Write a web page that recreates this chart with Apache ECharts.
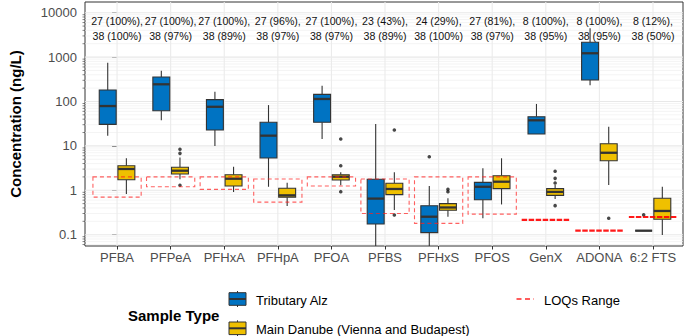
<!DOCTYPE html>
<html><head><meta charset="utf-8">
<script src="https://cdn.jsdelivr.net/npm/echarts@6/dist/echarts.min.js"></script>
<style>html,body{margin:0;padding:0;background:#fff}#c{width:685px;height:336px}</style>
</head><body><div id="c"></div>
<script>
const categories = ['PFBA','PFPeA','PFHxA','PFHpA','PFOA','PFBS','PFHxS','PFOS','GenX','ADONA','6:2 FTS'];
const countsAlz = ['27 (100%),','27 (100%),','27 (100%),','27 (96%),','27 (100%),','23 (43%),','24 (29%),','27 (81%),','8 (100%),','8 (100%),','8 (12%),'];
const countsDanube = ['38 (100%)','38 (97%)','38 (89%)','38 (97%)','38 (97%)','38 (89%)','38 (100%)','38 (97%)','38 (95%)','38 (95%)','38 (50%)'];
// [lower whisker, Q1, median, Q3, upper whisker]
const alzBox = [
  [17, 30.6, 79, 182, 748],
  [38, 62, 244, 356, 494],
  [9.95, 22.8, 76, 110, 166],
  [1.2, 5.34, 17, 34, 83],
  [14.3, 34, 114, 145, 227],
  [0.05, 0.174, 0.65, 1.77, 31],
  [0.05, 0.111, 0.254, 0.45, 1.25],
  [0.234, 0.61, 1.2, 1.51, 3.13],
  [18.5, 18.5, 37.7, 45.5, 88],
  [232, 305, 1220, 2155, 4454],
  [0.123, 0.123, 0.123, 0.123, 0.123]
];
const danubeBox = [
  [0.83, 1.73, 3.02, 3.58, 5.26],
  [1.77, 2.33, 2.76, 3.3, 5.5],
  [0.92, 1.25, 1.82, 2.24, 3.4],
  [0.44, 0.70, 0.77, 1.11, 1.48],
  [1.30, 1.71, 2.02, 2.24, 2.54],
  [0.36, 0.80, 1.07, 1.44, 2.54],
  [0.254, 0.355, 0.41, 0.50, 0.66],
  [0.48, 1.09, 1.56, 2.13, 5.26],
  [0.64, 0.77, 0.92, 1.09, 1.32],
  [1.32, 4.64, 7.0, 11.2, 27],
  [0.098, 0.222, 0.342, 0.66, 1.2]
];
// [category index, value]
const alzOutliers = [[6, 5.7], [10, 0.28]];
const danubeOutliers = [[1, 8.4], [1, 6.8], [1, 1.3], [4, 14.3], [4, 3.58], [4, 0.93], [5, 22.8], [5, 0.277],
  [6, 1.05], [6, 0.93], [8, 2.68], [8, 1.86], [8, 1.46], [8, 0.45], [9, 0.234]];
const loqMin = [0.70, 1.2, 1.05, 0.54, 1.25, 0.30, 0.18, 0.29, 0.215, 0.123, 0.25];
const loqMax = [2.0, 2.0, 2.0, 1.8, 2.0, 1.8, 2.0, 2.0, 0.215, 0.123, 0.25];
const yTicks = [0.1, 1, 10, 100, 1000, 10000];
const yTickLabels = ['0.1', '1', '10', '100', '1000', '10000'];
const legendLabels = ['Tributary Alz', 'Main Danube (Vienna and Budapest)'];

const X_MIN = -0.598, X_MAX = 10.56;
const Y_MIN = 0.0556, Y_MAX = 17420;
const DODGE = 0.174, HALF_BOX = 0.158, HALF_LOQ = 0.45;
const BLUE = '#0073C2', YELLOW = '#EFC000', EDGE = '#333333';
const FONT = '"Liberation Sans", Arial, Helvetica, sans-serif';

// minor log breaks (2..9 x 10^k) within range
const yMinor = [];
for (let k = -2; k <= 4; k++) for (let m = 2; m <= 9; m++) {
  const v = m * Math.pow(10, k);
  if (v > Y_MIN && v < Y_MAX) yMinor.push(v);
}

const chart = echarts.init(document.getElementById('c'), null, {renderer: 'svg'});

function boxSeries(name, stats, off, color) {
  return {
    type: 'custom', name, z: 3, silent: true,
    data: stats.map((s, i) => [i, ...s]),
    encode: {x: 0, y: [1, 2, 3, 4, 5]},
    renderItem(params, api) {
      const cs = params.coordSys;
      const clampY = y => Math.max(cs.y, Math.min(cs.y + cs.height, y));
      const xi = api.value(0) + off;
      const xm = api.coord([xi, 1])[0];
      const xl = api.coord([xi - HALF_BOX, 1])[0];
      const xr = api.coord([xi + HALF_BOX, 1])[0];
      const Y = d => api.coord([xi, api.value(d)])[1];
      const yLo = clampY(Y(1)), yQ1 = Y(2), yMed = Y(3), yQ3 = Y(4), yHi = clampY(Y(5));
      return {type: 'group', children: [
        {type: 'line', shape: {x1: xm, y1: yHi, x2: xm, y2: yQ3}, style: {stroke: EDGE, lineWidth: 1.1}},
        {type: 'line', shape: {x1: xm, y1: yQ1, x2: xm, y2: yLo}, style: {stroke: EDGE, lineWidth: 1.1}},
        {type: 'rect', shape: {x: xl, y: yQ3, width: xr - xl, height: yQ1 - yQ3}, style: {fill: color, stroke: EDGE, lineWidth: 1.1}},
        {type: 'line', shape: {x1: xl, y1: yMed, x2: xr, y2: yMed}, style: {stroke: EDGE, lineWidth: 2.3}}
      ]};
    }
  };
}

const gridSeries = {
  type: 'custom', z: 1, silent: true,
  data: [[0, 1]],
  renderItem(params, api) {
    const cs = params.coordSys;
    const ch = [];
    yMinor.forEach(v => {
      const y = api.coord([0, v])[1];
      ch.push({type: 'line', shape: {x1: cs.x, y1: y, x2: cs.x + cs.width, y2: y}, style: {stroke: '#EFEFEF', lineWidth: 0.7}});
      ch.push({type: 'line', shape: {x1: cs.x - 2.5, y1: y, x2: cs.x, y2: y}, style: {stroke: '#333', lineWidth: 0.6}});
    });
    yTicks.forEach(v => {
      const y = api.coord([0, v])[1];
      ch.push({type: 'line', shape: {x1: cs.x, y1: y, x2: cs.x + cs.width, y2: y}, style: {stroke: '#E8E8E8', lineWidth: 1.1}});
    });
    categories.forEach((c, i) => {
      const x = api.coord([i, 1])[0];
      ch.push({type: 'line', shape: {x1: x, y1: cs.y, x2: x, y2: cs.y + cs.height}, style: {stroke: '#EBEBEB', lineWidth: 1.1}});
    });
    return {type: 'group', children: ch};
  }
};

const loqSeries = {
  type: 'custom', name: 'LOQs Range', z: 5, silent: true,
  data: categories.map((c, i) => [i, loqMin[i], loqMax[i]]),
  encode: {x: 0, y: [1, 2]},
  renderItem(params, api) {
    const i = api.value(0);
    const xl = api.coord([i - HALF_LOQ, 1])[0], xr = api.coord([i + HALF_LOQ, 1])[0];
    const yb = api.coord([i, api.value(1)])[1], yt = api.coord([i, api.value(2)])[1];
    const flat = Math.abs(yb - yt) < 0.5;
    return {type: 'rect', shape: {x: xl, y: yt, width: xr - xl, height: yb - yt},
      style: {fill: 'none', stroke: flat ? 'rgba(255,0,0,0.9)' : 'rgba(255,30,30,0.7)', lineWidth: flat ? 2.2 : 1.1, lineDash: [4, 3]}};
  }
};

const annotSeries = {
  type: 'custom', z: 6, silent: true,
  data: categories.map((c, i) => [i, 1]),
  renderItem(params, api) {
    const i = api.value(0);
    const x = api.coord([i, 1])[0];
    const y0 = params.coordSys.y;
    const st = t => ({text: t, fill: '#111', fontSize: 10.6, fontFamily: FONT, align: 'center', verticalAlign: 'middle'});
    return {type: 'group', children: [
      {type: 'text', x: x, y: y0 + 18.5, style: st(countsAlz[i])},
      {type: 'text', x: x, y: y0 + 33.5, style: st(countsDanube[i])}
    ]};
  }
};

function outlierSeries(list, off) {
  return {type: 'scatter', z: 4, silent: true, symbolSize: 3.6,
    itemStyle: {color: '#1a1a1a'},
    data: list.map(([i, v]) => [i + off, v])};
}

const legendX = 229, legendKeyW = 17;
function keyGlyph(cy, color) {
  return [
    {type: 'line', shape: {x1: legendX + legendKeyW / 2, y1: cy - 8, x2: legendX + legendKeyW / 2, y2: cy + 8}, style: {stroke: EDGE, lineWidth: 1}},
    {type: 'rect', shape: {x: legendX, y: cy - 6.3, width: legendKeyW, height: 12.6}, style: {fill: color, stroke: EDGE, lineWidth: 1}},
    {type: 'line', shape: {x1: legendX, y1: cy, x2: legendX + legendKeyW, y2: cy}, style: {stroke: EDGE, lineWidth: 2}}
  ];
}

chart.setOption({
  animation: false,
  backgroundColor: '#fff',
  grid: {left: 67, right: 2, top: 2, bottom: 90, show: true, borderColor: '#333', borderWidth: 1, backgroundColor: 'transparent'},
  xAxis: {
    type: 'value', min: X_MIN, max: X_MAX,
    axisLine: {show: false},
    splitLine: {show: false},
    axisTick: {show: true, customValues: categories.map((c, i) => i), length: 3.5, lineStyle: {color: '#333'}},
    axisLabel: {customValues: categories.map((c, i) => i), formatter: v => categories[Math.round(v)], color: '#4D4D4D', fontSize: 13, fontFamily: FONT, margin: 5}
  },
  yAxis: {
    type: 'log', min: Y_MIN, max: Y_MAX,
    name: 'Concentration (ng/L)', nameLocation: 'middle', nameGap: 62,
    nameTextStyle: {fontWeight: 'bold', fontSize: 15, color: '#000', fontFamily: FONT},
    axisLine: {show: false},
    splitLine: {show: false},
    axisTick: {show: true, customValues: yTicks, length: 5, lineStyle: {color: '#333'}},
    axisLabel: {customValues: yTicks, formatter: v => yTickLabels[yTicks.findIndex(t => Math.abs(Math.log10(t) - Math.log10(v)) < 1e-6)], color: '#4D4D4D', fontSize: 13, fontFamily: FONT, margin: 8}
  },
  graphic: [
    {type: 'text', x: 128, y: 315, style: {text: 'Sample Type', fontWeight: 'bold', fontSize: 15, fill: '#000', fontFamily: FONT, verticalAlign: 'middle'}},
    {type: 'group', children: keyGlyph(299, BLUE).concat(keyGlyph(328.3, YELLOW))},
    {type: 'text', x: 256, y: 300, style: {text: legendLabels[0], fontSize: 13, fill: '#000', fontFamily: FONT, verticalAlign: 'middle'}},
    {type: 'text', x: 256, y: 329.3, style: {text: legendLabels[1], fontSize: 13, fill: '#000', fontFamily: FONT, verticalAlign: 'middle'}},
    {type: 'line', shape: {x1: 516.5, y1: 299, x2: 534, y2: 299}, style: {stroke: 'rgba(255,0,0,0.85)', lineWidth: 1.6, lineDash: [5, 3.5]}},
    {type: 'text', x: 544, y: 300, style: {text: 'LOQs Range', fontSize: 13, fill: '#000', fontFamily: FONT, verticalAlign: 'middle'}}
  ],
  series: [
    gridSeries,
    boxSeries('Tributary Alz', alzBox, -DODGE, BLUE),
    boxSeries('Main Danube (Vienna and Budapest)', danubeBox, DODGE, YELLOW),
    outlierSeries(alzOutliers, -DODGE),
    outlierSeries(danubeOutliers, DODGE),
    loqSeries,
    annotSeries
  ]
});
</script></body></html>
